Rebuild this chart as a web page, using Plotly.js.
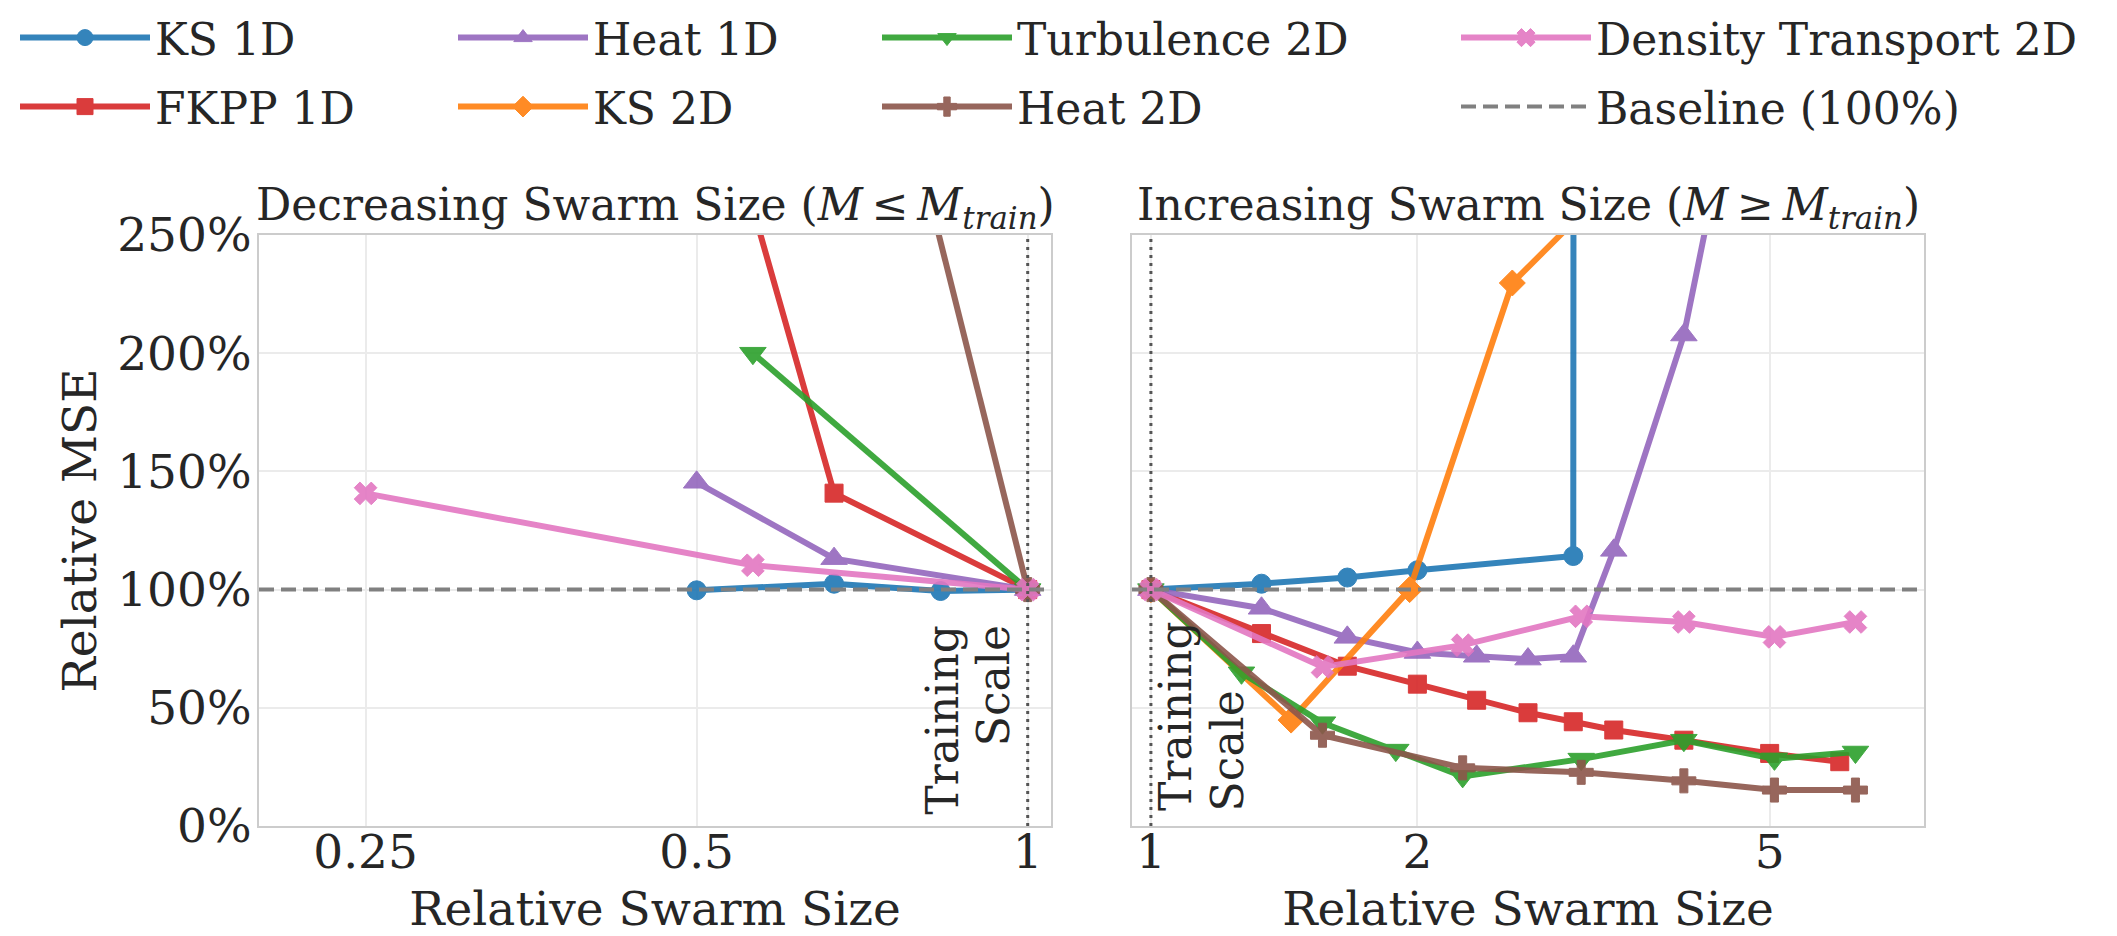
<!DOCTYPE html>
<html>
<head>
<meta charset="utf-8">
<script src="https://cdn.plot.ly/plotly-3.0.1.min.js"></script>
<style>html,body{margin:0;padding:0;background:#fff;}#chart{width:2117px;height:936px;}</style>
</head>
<body>
<div id="chart"></div>
<script>
// ---------- data (relative MSE in %) ----------
const SERIES_NAMES = ['KS 1D', 'FKPP 1D', 'Heat 1D', 'KS 2D', 'Turbulence 2D', 'Heat 2D', 'Density Transport 2D'];

// Decreasing swarm size (M <= M_train)
const KS1D_DEC_X = [0.5, 0.6667, 0.8333, 1];
const KS1D_DEC_Y = [99.7, 102.5, 99.4, 100];
const FKPP1D_DEC_X = [0.5, 0.6667, 1];
const FKPP1D_DEC_Y = [345, 140.8, 100];
const HEAT1D_DEC_X = [0.5, 0.6667, 1];
const HEAT1D_DEC_Y = [145.4, 113.1, 100];
const TURB2D_DEC_X = [0.5625, 1];
const TURB2D_DEC_Y = [200, 100];
const HEAT2D_DEC_X = [0.5625, 1];
const HEAT2D_DEC_Y = [564, 100];
const DENS2D_DEC_X = [0.25, 0.5625, 1];
const DENS2D_DEC_Y = [140.7, 110.3, 100];

// Increasing swarm size (M >= M_train)
const KS1D_INC_X = [1, 1.3333, 1.6667, 2, 3, 3.3333];
const KS1D_INC_Y = [100, 102.5, 105.1, 108.2, 114.2, 30000];
const FKPP1D_INC_X = [1, 1.3333, 1.6667, 2, 2.3333, 2.6667, 3, 3.3333, 4, 5, 6];
const FKPP1D_INC_Y = [100, 81.4, 67.6, 60.0, 53.2, 47.9, 44.1, 40.6, 36.3, 30.7, 27.2];
const HEAT1D_INC_X = [1, 1.3333, 1.6667, 2, 2.3333, 2.6667, 3, 3.3333, 4, 5];
const HEAT1D_INC_Y = [100, 92.1, 79.8, 73.4, 71.8, 70.6, 71.8, 116.6, 207.7, 386];
const KS2D_INC_X = [1, 1.44, 1.96, 2.56, 3.24];
const KS2D_INC_Y = [100, 44.8, 100, 229.7, 268];
const TURB2D_INC_X = [1, 1.2656, 1.5625, 1.8906, 2.25, 3.0625, 4, 5.0625, 6.25];
const TURB2D_INC_Y = [100, 64.8, 43.7, 32.1, 21.0, 28.3, 36.3, 28.4, 31.3];
const HEAT2D_INC_X = [1, 1.5625, 2.25, 3.0625, 4, 5.0625, 6.25];
const HEAT2D_INC_Y = [100, 38.4, 24.6, 22.7, 19.1, 15.2, 15.2];
const DENS2D_INC_X = [1, 1.5625, 2.25, 3.0625, 4, 5.0625, 6.25];
const DENS2D_INC_Y = [100, 67.3, 76.5, 88.7, 86.3, 80.0, 86.3];

const BASELINE = 100;
const TRAIN_SCALE = 1;
const XLIM_DEC = [0.2, 1.05];
const XLIM_INC = [0.952, 7.47];
const YLIM = [0, 250];
const Y_TICKS = [0, 50, 100, 150, 200, 250];
const Y_TICK_LABELS = ['0%', '50%', '100%', '150%', '200%', '250%'];
const X_TICKS_DEC = [0.25, 0.5, 1];
const X_TICK_LABELS_DEC = ['0.25', '0.5', '1'];
const X_TICKS_INC = [1, 2, 5];
const X_TICK_LABELS_INC = ['1', '2', '5'];

// ---------- styles ----------
const FONT = 'DejaVu Serif';
const TXT = '#262626';
const FS = 44;      // titles, legend, annotations
const FS_AX = 47;   // tick labels and axis titles
const STY = {
  'KS 1D':                {color: '#1f77b4', symbol: 'circle',        size: 19, legend: 'legend'},
  'FKPP 1D':              {color: '#d62728', symbol: 'square',        size: 18, legend: 'legend5'},
  'Heat 1D':              {color: '#9467bd', symbol: 'triangle-up',   size: 23, legend: 'legend2'},
  'KS 2D':                {color: '#ff7f0e', symbol: 'diamond',       size: 20, legend: 'legend6'},
  'Turbulence 2D':        {color: '#2ca02c', symbol: 'triangle-down', size: 23, legend: 'legend3'},
  'Heat 2D':              {color: '#8c564b', symbol: 'cross',         size: 20, legend: 'legend7'},
  'Density Transport 2D': {color: '#e377c2', symbol: 'x',             size: 20, legend: 'legend4'}
};
const DEC = {
  'KS 1D': [KS1D_DEC_X, KS1D_DEC_Y], 'FKPP 1D': [FKPP1D_DEC_X, FKPP1D_DEC_Y],
  'Heat 1D': [HEAT1D_DEC_X, HEAT1D_DEC_Y], 'Turbulence 2D': [TURB2D_DEC_X, TURB2D_DEC_Y],
  'Heat 2D': [HEAT2D_DEC_X, HEAT2D_DEC_Y], 'Density Transport 2D': [DENS2D_DEC_X, DENS2D_DEC_Y]
};
const INC = {
  'KS 1D': [KS1D_INC_X, KS1D_INC_Y], 'FKPP 1D': [FKPP1D_INC_X, FKPP1D_INC_Y],
  'Heat 1D': [HEAT1D_INC_X, HEAT1D_INC_Y], 'KS 2D': [KS2D_INC_X, KS2D_INC_Y],
  'Turbulence 2D': [TURB2D_INC_X, TURB2D_INC_Y], 'Heat 2D': [HEAT2D_INC_X, HEAT2D_INC_Y],
  'Density Transport 2D': [DENS2D_INC_X, DENS2D_INC_Y]
};

const traces = [];
SERIES_NAMES.forEach(name => {
  const s = STY[name];
  const base = {
    type: 'scatter', mode: 'lines+markers', name: name, legendgroup: name, legend: s.legend,
    opacity: 0.9, cliponaxis: true,
    line: {color: s.color, width: 6},
    marker: {color: s.color, symbol: s.symbol, size: s.size, line: {color: s.color, width: 1}}
  };
  if (DEC[name]) traces.push(Object.assign({}, base, {x: DEC[name][0], y: DEC[name][1], xaxis: 'x', yaxis: 'y', showlegend: false}));
  if (INC[name]) traces.push(Object.assign({}, base, {x: INC[name][0], y: INC[name][1], xaxis: 'x2', yaxis: 'y2', showlegend: true}));
});
// baseline (axhline)
const baseStyle = {type: 'scatter', mode: 'lines', name: 'Baseline (100%)', legendgroup: 'base', legend: 'legend8',
  line: {color: '#808080', width: 4, dash: '15px,7px'}, hoverinfo: 'skip'};
traces.push(Object.assign({}, baseStyle, {x: XLIM_DEC, y: [BASELINE, BASELINE], xaxis: 'x', yaxis: 'y', showlegend: false}));
traces.push(Object.assign({}, baseStyle, {x: XLIM_INC, y: [BASELINE, BASELINE], xaxis: 'x2', yaxis: 'y2', showlegend: true}));
// training scale (axvline)
const vStyle = {type: 'scatter', mode: 'lines', showlegend: false, hoverinfo: 'skip',
  line: {color: '#555555', width: 3, dash: '3px,5px'}};
traces.push(Object.assign({}, vStyle, {x: [TRAIN_SCALE, TRAIN_SCALE], y: YLIM, xaxis: 'x', yaxis: 'y'}));
traces.push(Object.assign({}, vStyle, {x: [TRAIN_SCALE, TRAIN_SCALE], y: YLIM, xaxis: 'x2', yaxis: 'y2'}));

const W = 2117, H = 936;
const px2x = p => p / W;
const px2y = p => 1 - p / H;

const axFont = {family: FONT, size: FS_AX, color: TXT};
const axCommon = {
  showgrid: true, gridcolor: '#ebebeb', gridwidth: 2,
  showline: true, linecolor: '#cccccc', linewidth: 2, mirror: true,
  zeroline: false, ticks: '', ticklen: 0, tickfont: axFont, automargin: false
};
const layout = {
  width: W, height: H,
  margin: {l: 0, r: 0, t: 0, b: 0, autoexpand: false},
  paper_bgcolor: '#ffffff', plot_bgcolor: '#ffffff',
  font: {family: FONT, size: FS, color: TXT},
  showlegend: true,
  xaxis: Object.assign({}, axCommon, {
    domain: [px2x(259), px2x(1051)], anchor: 'y', type: 'log',
    range: [Math.log10(XLIM_DEC[0]), Math.log10(XLIM_DEC[1])],
    tickmode: 'array', tickvals: X_TICKS_DEC, ticktext: X_TICK_LABELS_DEC, ticklabelstandoff: -16,
    title: {text: 'Relative Swarm Size', font: axFont, standoff: 15}
  }),
  yaxis: Object.assign({}, axCommon, {
    domain: [px2y(826), px2y(235)], anchor: 'x',
    range: YLIM, tickmode: 'array', tickvals: Y_TICKS, ticktext: Y_TICK_LABELS, ticklabelstandoff: -4,
    title: {text: 'Relative MSE', font: axFont, standoff: 6}
  }),
  xaxis2: Object.assign({}, axCommon, {
    domain: [px2x(1132), px2x(1924)], anchor: 'y2', type: 'log',
    range: [Math.log10(XLIM_INC[0]), Math.log10(XLIM_INC[1])],
    tickmode: 'array', tickvals: X_TICKS_INC, ticktext: X_TICK_LABELS_INC, ticklabelstandoff: -16,
    title: {text: 'Relative Swarm Size', font: axFont, standoff: 15}
  }),
  yaxis2: Object.assign({}, axCommon, {
    domain: [px2y(826), px2y(235)], anchor: 'x2', matches: 'y',
    range: YLIM, tickmode: 'array', tickvals: Y_TICKS, showticklabels: false
  }),
  annotations: [
    {xref: 'paper', yref: 'paper', x: px2x(655), y: px2y(207), xanchor: 'center', yanchor: 'middle', showarrow: false,
     text: 'Decreasing Swarm Size (<i>M</i>\u2009≤\u2009<i>M</i><sub><i>train</i></sub>)', font: {family: FONT, size: FS, color: TXT}},
    {xref: 'paper', yref: 'paper', x: px2x(1528), y: px2y(207), xanchor: 'center', yanchor: 'middle', showarrow: false,
     text: 'Increasing Swarm Size (<i>M</i>\u2009≥\u2009<i>M</i><sub><i>train</i></sub>)', font: {family: FONT, size: FS, color: TXT}},
    // Training Scale labels
    {xref: 'x', yref: 'paper', x: 0, xshift: -86, y: px2y(623), xanchor: 'center', yanchor: 'top', textangle: -90, showarrow: false,
     text: 'Training', font: {family: FONT, size: FS, color: TXT}},
    {xref: 'x', yref: 'paper', x: 0, xshift: -34, y: px2y(623), xanchor: 'center', yanchor: 'top', textangle: -90, showarrow: false,
     text: 'Scale', font: {family: FONT, size: FS, color: TXT}},
    {xref: 'x2', yref: 'paper', x: 0, xshift: 24, y: px2y(813), xanchor: 'center', yanchor: 'bottom', textangle: -90, showarrow: false,
     text: 'Training', font: {family: FONT, size: FS, color: TXT}},
    {xref: 'x2', yref: 'paper', x: 0, xshift: 77, y: px2y(813), xanchor: 'center', yanchor: 'bottom', textangle: -90, showarrow: false,
     text: 'Scale', font: {family: FONT, size: FS, color: TXT}}
  ]
};
// legends: 2 rows x 4 columns
const LEG_COLS = [20, 458, 882, 1461];
const LEG_ROWS = [38, 107];
const legIds = ['legend', 'legend2', 'legend3', 'legend4', 'legend5', 'legend6', 'legend7', 'legend8'];
legIds.forEach((id, i) => {
  const col = i % 4, row = Math.floor(i / 4);
  layout[id] = {
    xref: 'paper', yref: 'paper',
    x: px2x(LEG_COLS[col] - 5), y: px2y(LEG_ROWS[row]), xanchor: 'left', yanchor: 'middle',
    bgcolor: 'rgba(0,0,0,0)', borderwidth: 0, itemwidth: 130,
    font: {family: FONT, size: FS, color: TXT}, orientation: 'v'
  };
});

Plotly.newPlot('chart', traces, layout, {displayModeBar: false, staticPlot: true});
</script>
</body>
</html>
